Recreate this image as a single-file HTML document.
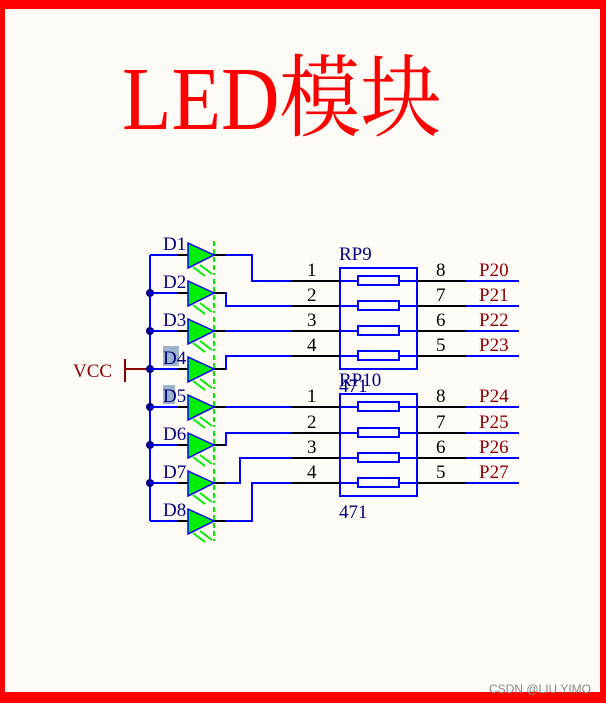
<!DOCTYPE html>
<html><head><meta charset="utf-8"><style>
html,body{margin:0;padding:0;background:#fffbf6;}
svg{display:block}
</style></head><body>
<svg width="606" height="703" xmlns="http://www.w3.org/2000/svg" font-family="Liberation Serif, Noto Serif CJK SC, serif">
<rect x="0" y="0" width="606" height="703" fill="#fffbf6"/>
<rect x="0" y="0" width="606" height="9" fill="#ff0000"/>
<rect x="0" y="0" width="5" height="703" fill="#ff0000"/>
<rect x="600" y="0" width="6" height="703" fill="#ff0000"/>
<rect x="0" y="692" width="606" height="11" fill="#ff0000"/>
<text x="0" y="0" font-size="90" fill="#ff0000" transform="translate(122,129) scale(0.9,1)">LED模块</text>
<text x="591" y="693" font-size="12" fill="#888" font-family="Liberation Sans, sans-serif" text-anchor="end">CSDN @LIU YIMO</text>

<text x="73" y="377" font-size="19" fill="#8b0000">VCC</text>
<line x1="125" y1="359" x2="125" y2="382" stroke="#8b0000" stroke-width="2"/>
<line x1="125" y1="369" x2="150" y2="369" stroke="#8b0000" stroke-width="2"/>
<line x1="150" y1="255" x2="150" y2="521" stroke="#0000ff" stroke-width="2"/>
<g fill="#000080">
<circle cx="150" cy="293" r="4"/><circle cx="150" cy="331" r="4"/><circle cx="150" cy="369" r="4"/>
<circle cx="150" cy="407" r="4"/><circle cx="150" cy="445" r="4"/><circle cx="150" cy="483" r="4"/>
</g>
<rect x="163" y="346" width="16" height="20" fill="#9bb4cb"/>
<rect x="163" y="385" width="12" height="19" fill="#9bb4cb"/>

<defs>
<g id="row">
<line x1="150" y1="0" x2="177" y2="0" stroke="#0000ff" stroke-width="2"/>
<line x1="177" y1="0" x2="188" y2="0" stroke="#000" stroke-width="2"/>
<line x1="214" y1="0" x2="225" y2="0" stroke="#000" stroke-width="2"/>
<polygon points="188,-12 214,0 188,13" fill="#00ee00" stroke="#0000ff" stroke-width="1.5"/>
<line x1="214" y1="-14" x2="214" y2="20" stroke="#00ee00" stroke-width="2" stroke-dasharray="5,3"/>
<line x1="193" y1="12" x2="205" y2="21" stroke="#00ee00" stroke-width="2"/>
<line x1="200" y1="10" x2="212" y2="19" stroke="#00ee00" stroke-width="2"/>
</g>
</defs>
<g>
<g transform="translate(0,255)"><use href="#row"/></g>
<g transform="translate(0,293)"><use href="#row"/></g>
<g transform="translate(0,331)"><use href="#row"/></g>
<g transform="translate(0,369)"><use href="#row"/></g>
<g transform="translate(0,407)"><use href="#row"/></g>
<g transform="translate(0,445)"><use href="#row"/></g>
<g transform="translate(0,483)"><use href="#row"/></g>
<g transform="translate(0,521)"><use href="#row"/></g>
</g>
<g font-size="19" fill="#000080">
<text x="163" y="250">D1</text><text x="163" y="288">D2</text><text x="163" y="326">D3</text><text x="163" y="364">D4</text>
<text x="163" y="402">D5</text><text x="163" y="440">D6</text><text x="163" y="478">D7</text><text x="163" y="516">D8</text>
</g>

<g fill="none" stroke="#0000ff" stroke-width="2">
<polyline points="225,255 252,255 252,281 291,281"/>
<polyline points="225,293 226,293 226,306 291,306"/>
<polyline points="225,331 291,331"/>
<polyline points="225,369 226,369 226,356 291,356"/>
<polyline points="225,407 291,407"/>
<polyline points="225,445 226,445 226,433 291,433"/>
<polyline points="225,483 240,483 240,458 291,458"/>
<polyline points="225,521 252,521 252,483 291,483"/>
</g>
<g stroke-width="2" fill="none">
<rect x="340" y="268" width="77" height="101" stroke="#0000ff"/>
<rect x="340" y="394" width="77" height="102" stroke="#0000ff"/>
</g>
<g stroke-width="2">
<g stroke="#000"><line x1="291" y1="281" x2="340" y2="281"/><line x1="417" y1="281" x2="466" y2="281"/>
<line x1="291" y1="306" x2="340" y2="306"/><line x1="417" y1="306" x2="466" y2="306"/>
<line x1="291" y1="331" x2="340" y2="331"/><line x1="417" y1="331" x2="466" y2="331"/>
<line x1="291" y1="356" x2="340" y2="356"/><line x1="417" y1="356" x2="466" y2="356"/>
<line x1="291" y1="407" x2="340" y2="407"/><line x1="417" y1="407" x2="466" y2="407"/>
<line x1="291" y1="433" x2="340" y2="433"/><line x1="417" y1="433" x2="466" y2="433"/>
<line x1="291" y1="458" x2="340" y2="458"/><line x1="417" y1="458" x2="466" y2="458"/>
<line x1="291" y1="483" x2="340" y2="483"/><line x1="417" y1="483" x2="466" y2="483"/></g>
<g stroke="#0000ff">
<line x1="340" y1="281" x2="417" y2="281"/><line x1="340" y1="306" x2="417" y2="306"/>
<line x1="340" y1="331" x2="417" y2="331"/><line x1="340" y1="356" x2="417" y2="356"/>
<line x1="340" y1="407" x2="417" y2="407"/><line x1="340" y1="433" x2="417" y2="433"/>
<line x1="340" y1="458" x2="417" y2="458"/><line x1="340" y1="483" x2="417" y2="483"/>
<line x1="466" y1="281" x2="519" y2="281"/><line x1="466" y1="306" x2="519" y2="306"/>
<line x1="466" y1="331" x2="519" y2="331"/><line x1="466" y1="356" x2="519" y2="356"/>
<line x1="466" y1="407" x2="519" y2="407"/><line x1="466" y1="433" x2="519" y2="433"/>
<line x1="466" y1="458" x2="519" y2="458"/><line x1="466" y1="483" x2="519" y2="483"/>
</g>
<g stroke="#0000ff" fill="#fffbf6">
<rect x="358" y="276" width="41" height="9"/><rect x="358" y="301" width="41" height="9"/>
<rect x="358" y="326" width="41" height="9"/><rect x="358" y="351" width="41" height="9"/>
<rect x="358" y="402" width="41" height="9"/><rect x="358" y="428" width="41" height="9"/>
<rect x="358" y="453" width="41" height="9"/><rect x="358" y="478" width="41" height="9"/>
</g>
</g>
<g font-size="19" fill="#000">
<text x="307" y="276">1</text><text x="307" y="301">2</text><text x="307" y="326">3</text><text x="307" y="351">4</text>
<text x="307" y="402">1</text><text x="307" y="428">2</text><text x="307" y="453">3</text><text x="307" y="478">4</text>
<text x="436" y="276">8</text><text x="436" y="301">7</text><text x="436" y="326">6</text><text x="436" y="351">5</text>
<text x="436" y="402">8</text><text x="436" y="428">7</text><text x="436" y="453">6</text><text x="436" y="478">5</text>
</g>
<g font-size="19" fill="#8b0000">
<text x="479" y="276">P20</text><text x="479" y="301">P21</text><text x="479" y="326">P22</text><text x="479" y="351">P23</text>
<text x="479" y="402">P24</text><text x="479" y="428">P25</text><text x="479" y="453">P26</text><text x="479" y="478">P27</text>
</g>
<g font-size="19" fill="#000080">
<text x="339" y="260">RP9</text>
<text x="339" y="392">471</text>
<text x="339" y="386">RP10</text>
<text x="339" y="518">471</text>
</g>
</svg>
</body></html>
